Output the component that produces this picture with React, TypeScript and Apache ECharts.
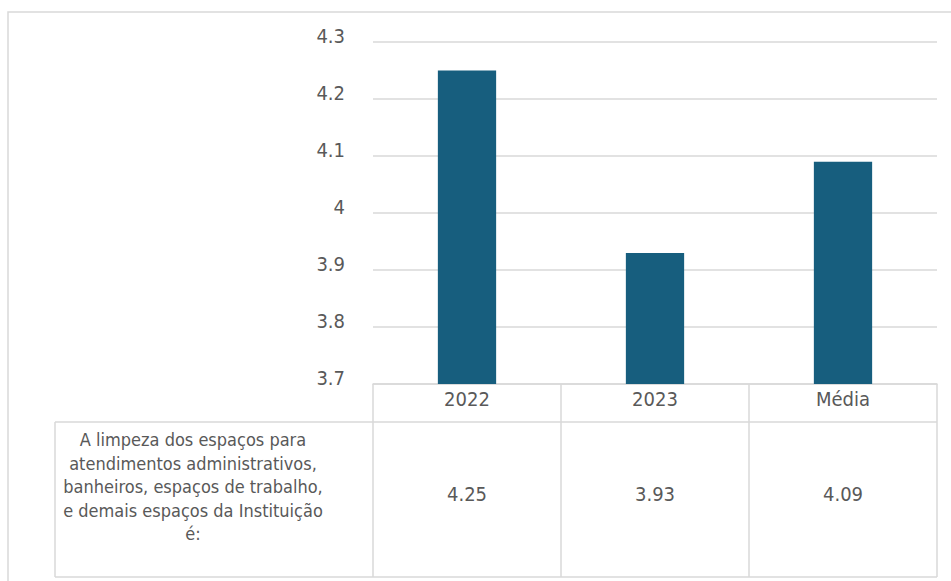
import React, { useEffect, useRef } from "react";
import * as echarts from "echarts";

const categories = ["2022", "2023", "Média"];
const values = [4.25, 3.93, 4.09];
const yMin = 3.7;
const yMax = 4.3;
const yStep = 0.1;
const rowLabel = [
  "A limpeza dos espaços para",
  "atendimentos administrativos,",
  "banheiros, espaços de trabalho,",
  "e demais espaços da Instituição",
  "é:",
];

const W = 951;
const H = 581;
const GL = 373;
const GR = 937;
const GT = 42;
const GB = 384;
const HEADER_B = 422;
const TABLE_B = 577;
const TABLE_L = 55;

const FONT = '"Liberation Sans Narrow", "Arial Narrow", "DejaVu Sans Condensed", sans-serif';
const TXT = "#595959";
const LINE = "#d9d9d9";

export default function App() {
  const ref = useRef<HTMLDivElement>(null);
  useEffect(() => {
    if (!ref.current) return;
    const chart = echarts.init(ref.current, undefined, { renderer: "svg" });
    const colW = (GR - GL) / categories.length;
    const vLines: any[] = [];
    for (let i = 0; i <= categories.length; i++) {
      const x = GL + i * colW;
      vLines.push({
        type: "line",
        shape: { x1: x, y1: GB, x2: x, y2: TABLE_B },
        style: { stroke: LINE, lineWidth: 1.5 },
      });
    }
    chart.setOption({
      animation: false,
      grid: { left: GL, right: W - GR, top: GT, bottom: H - GB, containLabel: false },
      xAxis: [
        {
          type: "category",
          data: categories,
          position: "bottom",
          axisLine: { show: true, lineStyle: { color: LINE, width: 1.5 } },
          axisTick: { show: false },
          axisLabel: {
            color: TXT,
            fontFamily: FONT,
            fontSize: 20,
            margin: 15,
            verticalAlign: "middle",
          },
        },
        {
          type: "category",
          data: values.map((v) => v.toFixed(2)),
          position: "bottom",
          offset: 110,
          axisLine: { show: false },
          axisTick: { show: false },
          axisLabel: {
            color: TXT,
            fontFamily: FONT,
            fontSize: 20,
            margin: 0,
            verticalAlign: "middle",
          },
        },
      ],
      yAxis: {
        type: "value",
        min: yMin,
        max: yMax,
        interval: yStep,
        axisLine: { show: false },
        axisTick: { show: false },
        splitLine: { show: true, lineStyle: { color: LINE, width: 1.5 } },
        axisLabel: {
          color: TXT,
          fontFamily: FONT,
          fontSize: 20,
          margin: 28,
          verticalAlign: "bottom",
          lineHeight: 13,
          formatter: (v: number) => String(Number(v.toFixed(1))),
        },
      },
      series: [
        {
          type: "bar",
          data: values,
          barWidth: "31%",
          itemStyle: { color: "#175E7E" },
        },
      ],
      graphic: [
        {
          type: "rect",
          shape: { x: 8, y: 12, width: 1000, height: 1000 },
          style: { fill: "none", stroke: LINE, lineWidth: 1.5 },
          silent: true,
        },
        {
          type: "line",
          shape: { x1: TABLE_L, y1: HEADER_B, x2: GR, y2: HEADER_B },
          style: { stroke: LINE, lineWidth: 1.5 },
        },
        {
          type: "line",
          shape: { x1: TABLE_L, y1: TABLE_B, x2: GR, y2: TABLE_B },
          style: { stroke: LINE, lineWidth: 1.5 },
        },
        {
          type: "line",
          shape: { x1: TABLE_L, y1: HEADER_B, x2: TABLE_L, y2: TABLE_B },
          style: { stroke: LINE, lineWidth: 1.5 },
        },
        ...vLines,
        {
          type: "text",
          x: 193,
          y: 428,
          style: {
            text: rowLabel.join("\n"),
            fill: TXT,
            font: `18px ${FONT}`,
            align: "center",
            verticalAlign: "top",
            lineHeight: 23.5,
          },
        },
      ],
    });
    return () => chart.dispose();
  }, []);
  return (
    <div
      ref={ref}
      style={{ position: "fixed", left: 0, top: 0, width: W, height: H, background: "#fff" }}
    />
  );
}
